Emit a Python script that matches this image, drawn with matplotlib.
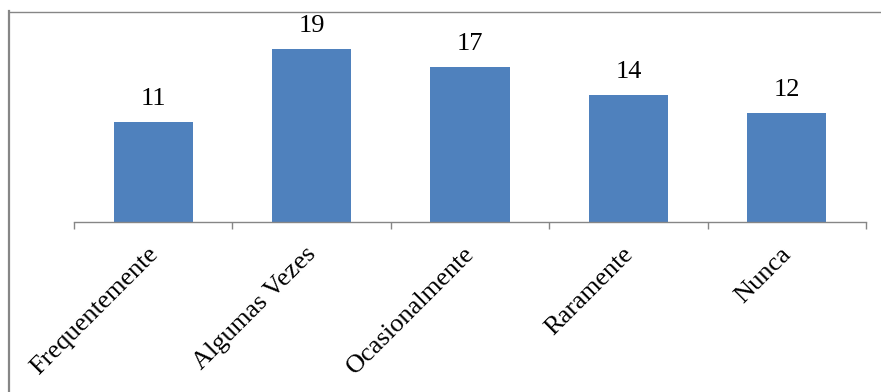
import matplotlib
matplotlib.use("Agg")
import matplotlib.pyplot as plt
from matplotlib.lines import Line2D
import numpy as np

# data
categories = ["Frequentemente", "Algumas Vezes", "Ocasionalmente", "Raramente", "Nunca"]
values = [11, 19, 17, 14, 12]

plt.rcParams['font.family'] = ['Liberation Serif', 'DejaVu Serif']

W, H = 881, 392
fig = plt.figure(figsize=(W / 100, H / 100), dpi=100)

# axes placed in pixel terms
left, right, base, top = 74, 866, 222, 40
ax = fig.add_axes([left / W, 1 - base / H, (right - left) / W, (base - top) / H])

x = np.arange(len(categories))
ax.bar(x, values, width=0.5, color='#4F81BD', zorder=2)

ax.set_xlim(-0.5, len(categories) - 0.5)
ax.set_ylim(0, 20)

# value labels
for xi, v in zip(x, values):
    ax.annotate(str(v), (xi, v), xytext=(0, 8.5), textcoords='offset points',
                ha='center', va='bottom', fontsize=19, clip_on=False)

# spines / ticks
for s in ['top', 'right', 'left']:
    ax.spines[s].set_visible(False)
ax.spines['bottom'].set_color('#868686')
ax.spines['bottom'].set_linewidth(1.0)
ax.set_yticks([])
ax.set_xticks(np.arange(len(categories) + 1) - 0.5)
ax.set_xticklabels([])
ax.tick_params(axis='x', length=5, width=1.0, color='#868686', direction='out')

# category labels, rotated
for xi, lab in zip(x, categories):
    ax.annotate(lab, (xi, 0), xycoords=('data', 'axes fraction'),
                xytext=(6.5, -15), textcoords='offset points',
                rotation=45, ha='right', va='top', fontsize=19,
                annotation_clip=False)

# chart border (left and top visible)
fig.add_artist(Line2D([9 / W, 9 / W], [0, 1 - 11 / H], color='#868686', lw=1.6))
fig.add_artist(Line2D([9 / W, 1], [1 - 11.5 / H, 1 - 11.5 / H], color='#868686', lw=1.0))

fig.savefig("out.png", dpi=100)
